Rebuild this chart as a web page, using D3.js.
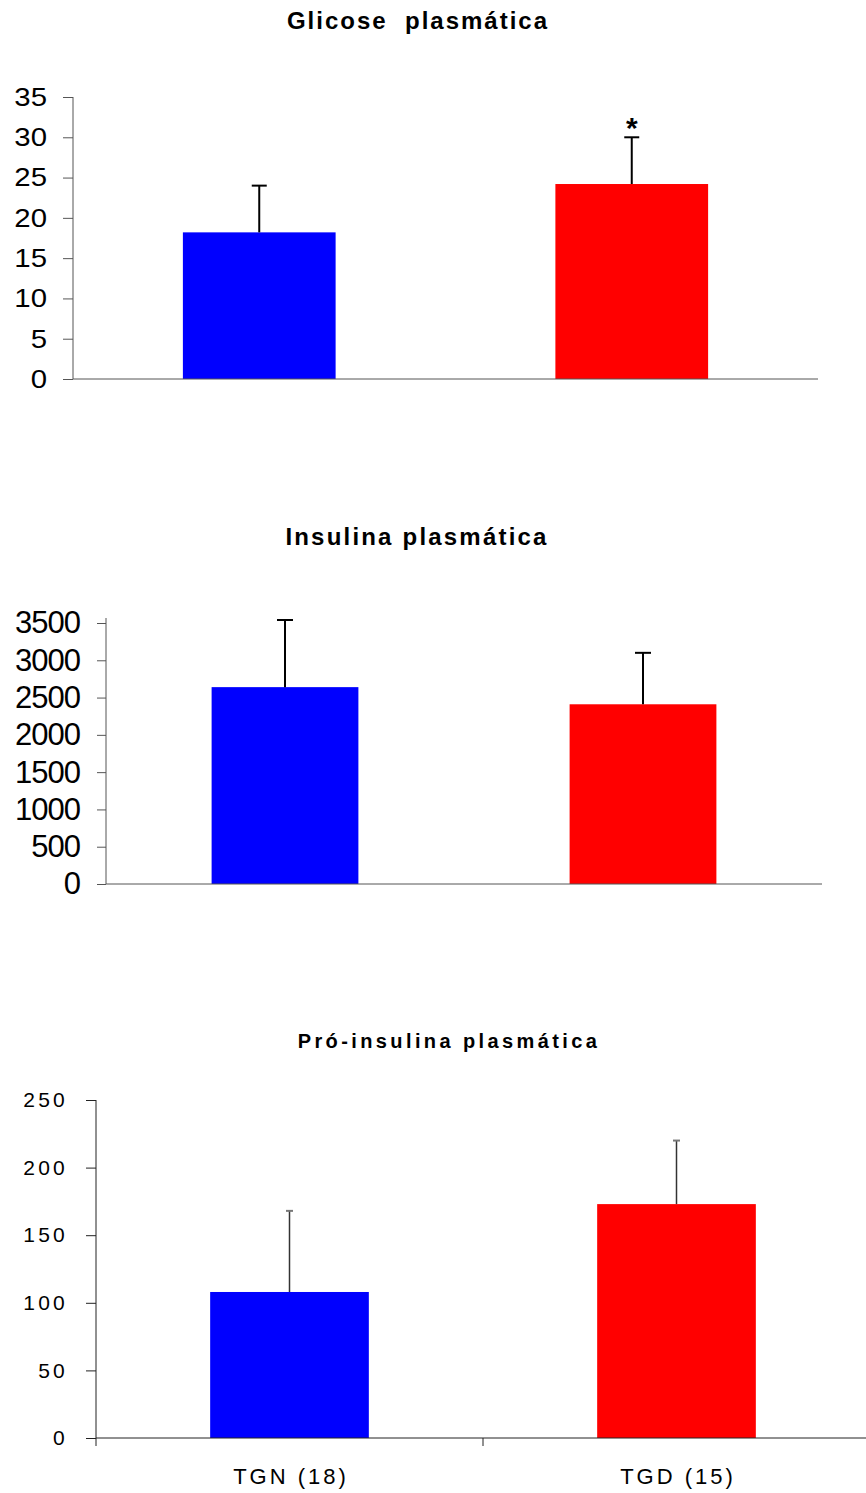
<!DOCTYPE html>
<html>
<head>
<meta charset="utf-8">
<script src="https://cdn.jsdelivr.net/npm/d3@7"></script>
<style>
  html, body { margin: 0; padding: 0; background: #fff; }
  svg { display: block; }
  text { font-family: "Liberation Sans", Arial, Helvetica, sans-serif; fill: #000; }
</style>
</head>
<body>
<svg id="chart" width="866" height="1493"></svg>
<script>
// Groups compared in every panel
const groups = ["TGN (18)", "TGD (15)"];
const barColors = ["#0000FF", "#FF0000"];

// Plasma glucose: mean and upper error
const glicoseMean = [18.2, 24.2];
const glicoseErr = [5.8, 5.8];
const glicoseTicks = [0, 5, 10, 15, 20, 25, 30, 35];

// Plasma insulin
const insulinaMean = [2640, 2410];
const insulinaErr = [900, 690];
const insulinaTicks = [0, 500, 1000, 1500, 2000, 2500, 3000, 3500];

// Plasma proinsulin
const proMean = [108, 173];
const proErr = [60, 47];
const proTicks = [0, 50, 100, 150, 200, 250];

const titles = ["Glicose  plasmática", "Insulina plasmática", "Pró-insulina plasmática"];
const significance = ["", "*"];

const svg = d3.select("#chart");

const panels = [
  {
    title: titles[0], mean: glicoseMean, err: glicoseErr, ticks: glicoseTicks,
    left: 73, right: 818, top: 97, bottom: 379, axisTop: 97, axisBottom: 379,
    titleX: 418, titleY: 29, titleSize: 24, titleSpacing: 2,
    tickSize: 10, labelOffset: 26, labelSize: 26, labelStretch: 1.13, labelSpacing: 0,
    capHalf: 7.5, errWidth: 2, capColor: "#000", errColor: "#000",
    axisColor: "#555", marks: true, categoryLabels: false
  },
  {
    title: titles[1], mean: insulinaMean, err: insulinaErr, ticks: insulinaTicks,
    left: 106, right: 822, top: 623, bottom: 884, axisTop: 618, axisBottom: 884,
    titleX: 417, titleY: 545, titleSize: 24, titleSpacing: 2.2,
    tickSize: 9, labelOffset: 26, labelSize: 31, labelStretch: 1, labelSpacing: -1,
    capHalf: 8, errWidth: 2, capColor: "#000", errColor: "#000",
    axisColor: "#555", marks: false, categoryLabels: false
  },
  {
    title: titles[2], mean: proMean, err: proErr, ticks: proTicks,
    left: 96, right: 870, top: 1100, bottom: 1438, axisTop: 1100, axisBottom: 1438,
    titleX: 449, titleY: 1048, titleSize: 20, titleSpacing: 3.4,
    tickSize: 10, labelOffset: 28, labelSize: 21, labelStretch: 1, labelSpacing: 3.2,
    capHalf: 3.5, errWidth: 1.5, capColor: "#777", errColor: "#333",
    axisColor: "#222", marks: false, categoryLabels: true
  }
];

panels.forEach(p => {
  const g = svg.append("g");

  const x = d3.scaleBand()
    .domain(groups)
    .range([p.left, p.right])
    .paddingInner(0.59)
    .paddingOuter(0.295);

  const y = d3.scaleLinear()
    .domain([0, d3.max(p.ticks)])
    .range([p.bottom, p.top]);

  // Title
  g.append("text")
    .attr("x", p.titleX)
    .attr("y", p.titleY)
    .attr("text-anchor", "middle")
    .style("font-size", p.titleSize + "px")
    .style("font-weight", "bold")
    .style("letter-spacing", p.titleSpacing + "px")
    .style("white-space", "pre")
    .attr("xml:space", "preserve")
    .text(p.title);

  // Bars
  g.selectAll("rect.bar")
    .data(groups)
    .join("rect")
    .attr("class", "bar")
    .attr("x", d => x(d))
    .attr("width", x.bandwidth())
    .attr("y", (d, i) => y(p.mean[i]))
    .attr("height", (d, i) => y(0) - y(p.mean[i]))
    .attr("fill", (d, i) => barColors[i]);

  // Upper error bars
  const eb = g.selectAll("g.err")
    .data(groups)
    .join("g")
    .attr("class", "err");
  eb.append("line")
    .attr("x1", d => x(d) + x.bandwidth() / 2)
    .attr("x2", d => x(d) + x.bandwidth() / 2)
    .attr("y1", (d, i) => y(p.mean[i]))
    .attr("y2", (d, i) => y(p.mean[i] + p.err[i]))
    .attr("stroke", p.errColor)
    .attr("stroke-width", p.errWidth);
  eb.append("line")
    .attr("x1", d => x(d) + x.bandwidth() / 2 - p.capHalf)
    .attr("x2", d => x(d) + x.bandwidth() / 2 + p.capHalf)
    .attr("y1", (d, i) => y(p.mean[i] + p.err[i]))
    .attr("y2", (d, i) => y(p.mean[i] + p.err[i]))
    .attr("stroke", p.capColor)
    .attr("stroke-width", 2);

  // Significance marker
  if (p.marks) {
    g.selectAll("text.sig")
      .data(groups)
      .join("text")
      .attr("class", "sig")
      .attr("x", d => x(d) + x.bandwidth() / 2)
      .attr("y", (d, i) => y(p.mean[i] + p.err[i]))
      .attr("dy", "0.02em")
      .attr("text-anchor", "middle")
      .style("font-size", "30px")
      .style("font-weight", "bold")
      .text((d, i) => significance[i]);
  }

  // Value axis
  const yAxis = d3.axisLeft(y)
    .tickValues(p.ticks)
    .tickFormat(d3.format("d"))
    .tickSize(p.tickSize)
    .tickSizeOuter(0)
    .tickPadding(p.labelOffset - p.tickSize);
  const ya = g.append("g")
    .attr("transform", `translate(${p.left},0)`)
    .call(yAxis);
  ya.select(".domain").remove();
  ya.selectAll(".tick line").attr("stroke", p.axisColor);
  ya.selectAll(".tick text")
    .attr("font-family", null)
    .style("font-size", p.labelSize + "px")
    .style("letter-spacing", p.labelSpacing + "px")
    .attr("x", -p.labelOffset / p.labelStretch)
    .attr("transform", `scale(${p.labelStretch},1)`);
  ya.append("line")
    .attr("x1", 0).attr("x2", 0)
    .attr("y1", p.axisTop).attr("y2", p.axisBottom)
    .attr("stroke", p.axisColor);

  // Category axis
  g.append("line")
    .attr("x1", p.left).attr("x2", p.right)
    .attr("y1", y(0)).attr("y2", y(0))
    .attr("stroke", p.axisColor);

  if (p.categoryLabels) {
    const bounds = [p.left, (p.left + p.right) / 2, p.right];
    g.selectAll("line.ctick")
      .data(bounds)
      .join("line")
      .attr("class", "ctick")
      .attr("x1", d => d).attr("x2", d => d)
      .attr("y1", y(0)).attr("y2", y(0) + 8)
      .attr("stroke", p.axisColor);
    g.selectAll("text.cat")
      .data(groups)
      .join("text")
      .attr("class", "cat")
      .attr("x", d => x(d) + x.bandwidth() / 2 + 1.5)
      .attr("y", 1484)
      .attr("text-anchor", "middle")
      .style("font-size", "22px")
      .style("letter-spacing", "3px")
      .text(d => d);
  }
});
</script>
</body>
</html>
